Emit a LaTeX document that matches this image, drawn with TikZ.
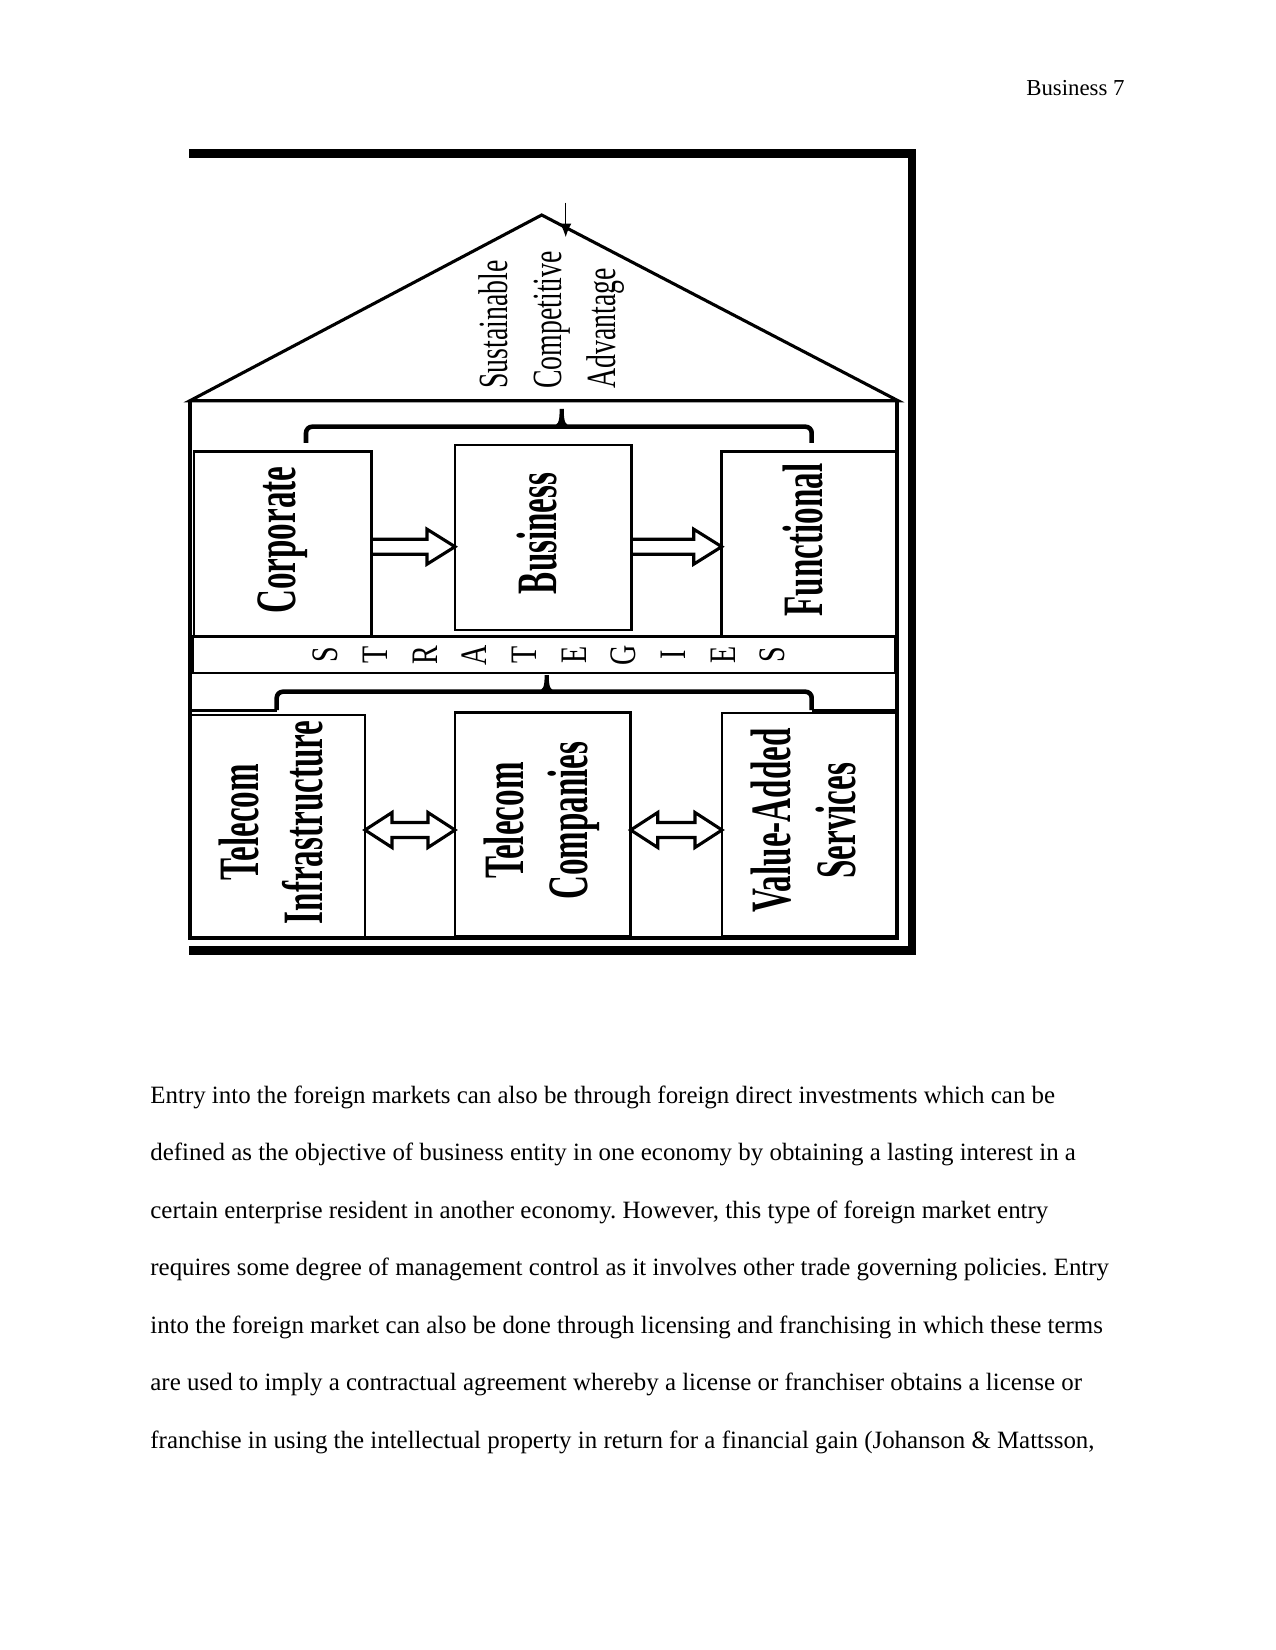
\documentclass[tikz,border=0pt]{standalone}
\usepackage{fontspec}
\setmainfont{Liberation Serif}
\usepackage{graphicx}
\usetikzlibrary{calc,arrows.meta}
\frenchspacing
\newcommand\sqz[2]{\scalebox{#1}[1]{\begin{tabular}{@{}c@{}}#2\end{tabular}}}
\newcommand\sqzl[2]{\scalebox{#1}[1]{\begin{tabular}{@{}l@{}}#2\end{tabular}}}
\tikzset{
  pbox/.style n args={2}{draw, line width=1.3pt, minimum width={#1*0.4818pt}, minimum height={#2*0.4818pt}, inner sep=0pt, outer sep=0pt},
  boldlbl/.style={rotate=90, inner sep=0pt, xshift=2pt, font=\fontsize{27.5}{31}\selectfont\bfseries},
  rooflbl/.style={rotate=90, inner sep=0pt, font=\fontsize{20}{26}\selectfont},
  letterlbl/.style={rotate=90, inner sep=0pt, font=\fontsize{18}{20}\selectfont},
  frameline/.style={line width=1.5pt},
  thickframe/.style={line width=3.9pt},
  bracepath/.style={line width=2.2pt, rounded corners=3pt},
  hollow/.style={line width=1.5pt, line join=miter},
  bodytext/.style={anchor=base west, inner sep=0pt, font=\fontsize{12}{14}\selectfont},
}
\newcommand\singlehollow[2]{% #1 start coordinate, #2 tip coordinate
  \draw[hollow] ($(#1)+(0,-7.5)$) -- ($(#2)+(-28,-7.5)$) -- ++(0,-10) -- (#2)
    -- ($(#2)+(-28,17.5)$) -- ++(0,-10) -- ($(#1)+(0,7.5)$);}
\newcommand\doublehollow[2]{% #1 left tip, #2 right tip
  \draw[hollow] (#1) -- ($(#1)+(27,-17.5)$) -- ++(0,10) -- ($(#2)+(-27,-7.5)$)
    -- ++(0,-10) -- (#2) -- ($(#2)+(-27,17.5)$) -- ++(0,-10)
    -- ($(#1)+(27,7.5)$) -- ++(0,10) -- cycle;}
\begin{document}
\begin{tikzpicture}[x=0.4818pt,y=-0.4818pt]
\useasboundingbox (0,0) rectangle (1275,1650);
\node[anchor=base east, inner sep=0pt, font=\fontsize{11}{13}\selectfont] (hdr) at (1125,96) {Business 7};

% thick outer border (top, right, bottom)
\draw[thickframe] (189,153.5) -- (912,153.5) -- (912,950.5) -- (189,950.5);
% roof
\draw[frameline, line join=miter] (190,400.7) -- (541.7,215) -- (898,400.7) -- cycle;
% inner frame
\draw[frameline] (190,400.7) -- (190,938) -- (897,938) -- (897,400.7);
\draw[frameline] (190,710.5) -- (277,710.5);
\draw[frameline] (812,710.5) -- (897,710.5);

% small arrow at the apex
\coordinate (sa1) at (565.7,202.7);
\coordinate (sa2) at (565.7,237);
\draw[line width=0.5pt, -{Latex[length=6.5pt,width=5.5pt]}] (sa1) -- (sa2);

% roof label
\node[rooflbl, anchor=west] (sca) at (551,389) {\sqzl{0.67}{Sustainable\\Competitive\\Advantage}};

% upper brace
\draw[bracepath] (306,443) -- (306,426.7) -- (811.7,426.7) -- (811.7,443);
\fill (549,428) .. controls (559,426.5) and (559.6,421) .. (559.6,409) -- (563.8,409) .. controls (563.8,421) and (564.4,426.5) .. (574.4,428) -- cycle;

% upper boxes
\node[pbox={177.7}{185}] (corp) at (282.85,544.2) {};
\node[pbox={176.7}{185}] (bus) at (543.35,537.5) {};
\node[pbox={175}{185}] (func) at (809.2,544.2) {};
\node[boldlbl] (corpT) at (corp.center) {\sqz{0.58}{Corporate}};
\node[boldlbl] (busT) at (bus.center) {\sqz{0.58}{Business}};
\node[boldlbl] (funcT) at (func.center) {\sqz{0.58}{Functional}};

\coordinate (u1s) at (corp.east |- 0,546.7);
\coordinate (u1e) at (bus.west |- 0,546.7);
\coordinate (u2s) at (bus.east |- 0,546.7);
\coordinate (u2e) at (func.west |- 0,546.7);
\singlehollow{u1s}{u1e}
\singlehollow{u2s}{u2e}

% strategies band
\node[pbox={702}{36.3}] (band) at (544,654.85) {};
\foreach \c [count=\i from 0] in {S,T,R,A,T,E,G,I,E,S}
  \node[letterlbl] (L\i) at ({329.5+49.67*\i},655) {\sqz{0.75}{\c}};

% lower brace
\draw[bracepath] (276.7,710) -- (276.7,691.7) -- (811.7,691.7) -- (811.7,710);
\fill (534,693) .. controls (544,691.5) and (544.6,686) .. (544.6,675) -- (548.8,675) .. controls (548.8,686) and (549.4,691.5) .. (559.4,693) -- cycle;

% lower boxes
\node[pbox={175}{223}] (infra) at (277.5,826.5) {};
\node[pbox={175.7}{224}] (comp) at (542.85,824.7) {};
\node[pbox={176}{223.7}] (vas) at (810,824.85) {};
\node[boldlbl] (infraT) at (infra.center) {\sqz{0.58}{Telecom\\Infrastructure}};
\node[boldlbl] (compT) at (comp.center) {\sqz{0.58}{Telecom\\Companies}};
\node[boldlbl] (vasT) at (vas.center) {\sqz{0.58}{Value-Added\\Services}};

\coordinate (d1s) at (infra.east |- 0,830);
\coordinate (d1e) at (comp.west |- 0,830);
\coordinate (d2s) at (comp.east |- 0,830);
\coordinate (d2e) at (vas.west |- 0,830);
\doublehollow{d1s}{d1e}
\doublehollow{d2s}{d2e}

% body text
\node[bodytext] (p1) at (150,1103) {Entry into the foreign markets can also be through foreign direct investments which can be};
\node[bodytext] (p2) at (150,1160.5) {defined as the objective of business entity in one economy by obtaining a lasting interest in a};
\node[bodytext] (p3) at (150,1218) {certain enterprise resident in another economy. However, this type of foreign market entry};
\node[bodytext] (p4) at (150,1275.5) {requires some degree of management control as it involves other trade governing policies. Entry};
\node[bodytext] (p5) at (150,1333) {into the foreign market can also be done through licensing and franchising in which these terms};
\node[bodytext] (p6) at (150,1390.5) {are used to imply a contractual agreement whereby a license or franchiser obtains a license or};
\node[bodytext] (p7) at (150,1448) {franchise in using the intellectual property in return for a financial gain (Johanson \& Mattsson,};
\end{tikzpicture}
\end{document}
